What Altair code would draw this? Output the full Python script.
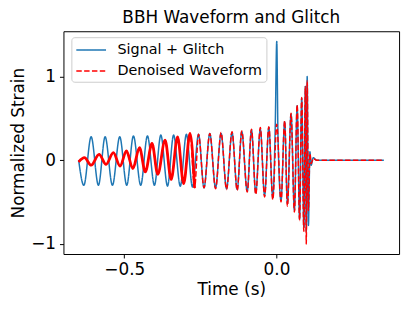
import altair as alt
import pandas as pd

# Signal + Glitch (extrema)
blue_t = [-0.650, -0.633, -0.609, -0.585, -0.563, -0.539, -0.515, -0.492, -0.470, -0.446,
          -0.424, -0.401, -0.380, -0.358, -0.338, -0.316, -0.296, -0.276, -0.256, -0.238,
          -0.219, -0.200, -0.182, -0.164, -0.146, -0.129, -0.114, -0.096, -0.082, -0.068,
          -0.053, -0.039, -0.025, -0.012, -0.004, 0.001, 0.005, 0.015, 0.027, 0.036,
          0.048, 0.059, 0.068, 0.076, 0.083, 0.090, 0.095, 0.098, 0.101, 0.105,
          0.110, 0.114, 0.121, 0.132, 0.353]
blue_v = [0.00, -0.30, 0.28, -0.30, 0.28, -0.30, 0.28, -0.30, 0.29, -0.30,
          0.29, -0.30, 0.30, -0.31, 0.30, -0.31, 0.31, -0.32, 0.31, -0.33,
          0.32, -0.33, 0.32, -0.34, 0.33, -0.35, 0.34, -0.37, 0.36, -0.39,
          0.37, -0.42, 0.39, -0.45, 0.40, 1.42, 0.30, -0.48, 0.46, -0.52,
          0.55, -0.60, 0.65, -0.70, 0.74, -0.80, 0.88, -0.85, 1.00, -0.78,
          0.10, -0.06, 0.03, 0.00, 0.00]

# Denoised Waveform
red_t = [-0.650, -0.631, -0.609, -0.583, -0.560, -0.536, -0.514, -0.493, -0.472, -0.450,
         -0.431, -0.409, -0.390, -0.366, -0.346, -0.325, -0.305, -0.284, -0.269, -0.256,
         -0.238, -0.219, -0.200, -0.182, -0.164, -0.146, -0.129, -0.114, -0.096, -0.082,
         -0.068, -0.053, -0.039, -0.025, -0.012, 0.001, 0.015, 0.027, 0.036, 0.048,
         0.059, 0.068, 0.076, 0.083, 0.090, 0.095, 0.098, 0.101, 0.105, 0.110,
         0.114, 0.121, 0.132, 0.353]
red_v = [-0.02, 0.03, -0.06, 0.07, -0.05, 0.09, -0.07, 0.11, -0.10, 0.15,
         -0.14, 0.20, -0.17, 0.24, -0.23, 0.28, -0.28, 0.32, -0.33, 0.31,
         -0.33, 0.32, -0.34, 0.33, -0.35, 0.34, -0.36, 0.35, -0.38, 0.37,
         -0.41, 0.39, -0.44, 0.40, -0.47, 0.43, -0.50, 0.47, -0.55, 0.56,
         -0.62, 0.66, -0.72, 0.75, -0.85, 0.88, -1.00, 0.95, -0.60, 0.08,
         -0.04, 0.02, 0.00, 0.00]

S1 = "Signal + Glitch"
S2 = "Denoised Waveform"
series = [S1, S2]
colors = ["#1f77b4", "#ff0000"]

blue_df = pd.DataFrame({"t": blue_t, "v": blue_v, "series": S1})
red_df = pd.DataFrame({"t": red_t, "v": red_v, "series": S2})
noisy_df = red_df[red_df["t"] <= -0.26]

x = alt.X("t:Q", scale=alt.Scale(domain=[-0.70, 0.403], nice=False, zero=False),
          axis=alt.Axis(values=[-0.5, 0.0], format=".1f", title="Time (s)", titlePadding=4))
y = alt.Y("v:Q", scale=alt.Scale(domain=[-1.121, 1.541], nice=False, zero=False),
          axis=alt.Axis(values=[-1, 0, 1], format="d", title="Normalized Strain", titlePadding=3))

leg = dict(title=None, orient="none", legendX=8, legendY=6,
           symbolType="M-1,0L2.75,0", symbolSize=256, symbolStrokeWidth=1.5,
           labelFontSize=14.5, labelFont="DejaVu Sans", labelColor="black",
           padding=4, rowPadding=5.2, labelOffset=24.6,
           strokeColor="#cccccc", fillColor="rgba(255,255,255,0.8)", cornerRadius=3)

color = alt.Color("series:N", scale=alt.Scale(domain=series, range=colors), legend=alt.Legend(**leg))
dash = alt.StrokeDash("series:N", scale=alt.Scale(domain=series, range=[[1, 0], [5.5, 2.4]]),
                      legend=alt.Legend(**leg))

blue = alt.Chart(blue_df).mark_line(strokeWidth=1.5, interpolate="monotone", clip=True).encode(
    x=x, y=y, color=color, strokeDash=dash)
red = alt.Chart(red_df).mark_line(strokeWidth=1.5, interpolate="monotone", clip=True).encode(
    x=x, y=y, color=color, strokeDash=dash)
noisy = alt.Chart(noisy_df).mark_line(strokeWidth=2.8, interpolate="monotone", color="#ff0000",
                                      clip=True).encode(x=x, y=y)

chart = alt.layer(blue, red, noisy).properties(
    width=339, height=225,
    title=alt.TitleParams("BBH Waveform and Glitch", fontSize=17, font="DejaVu Sans",
                          fontWeight="normal", color="black", offset=4, anchor="middle"),
    autosize=alt.AutoSizeParams(type="none"),
    padding={"left": 56, "top": 22, "right": 8, "bottom": 48},
).configure_view(stroke="black", strokeWidth=1).configure_axis(
    domain=False, grid=False, labelFont="DejaVu Sans", labelFontSize=17, labelColor="black",
    titleFont="DejaVu Sans", titleFontSize=17, titleFontWeight="normal", titleColor="black",
    tickColor="black", tickSize=4, tickWidth=1, labelPadding=4,
)

chart.save("out.html", embed_options={"renderer": "svg", "actions": False})
